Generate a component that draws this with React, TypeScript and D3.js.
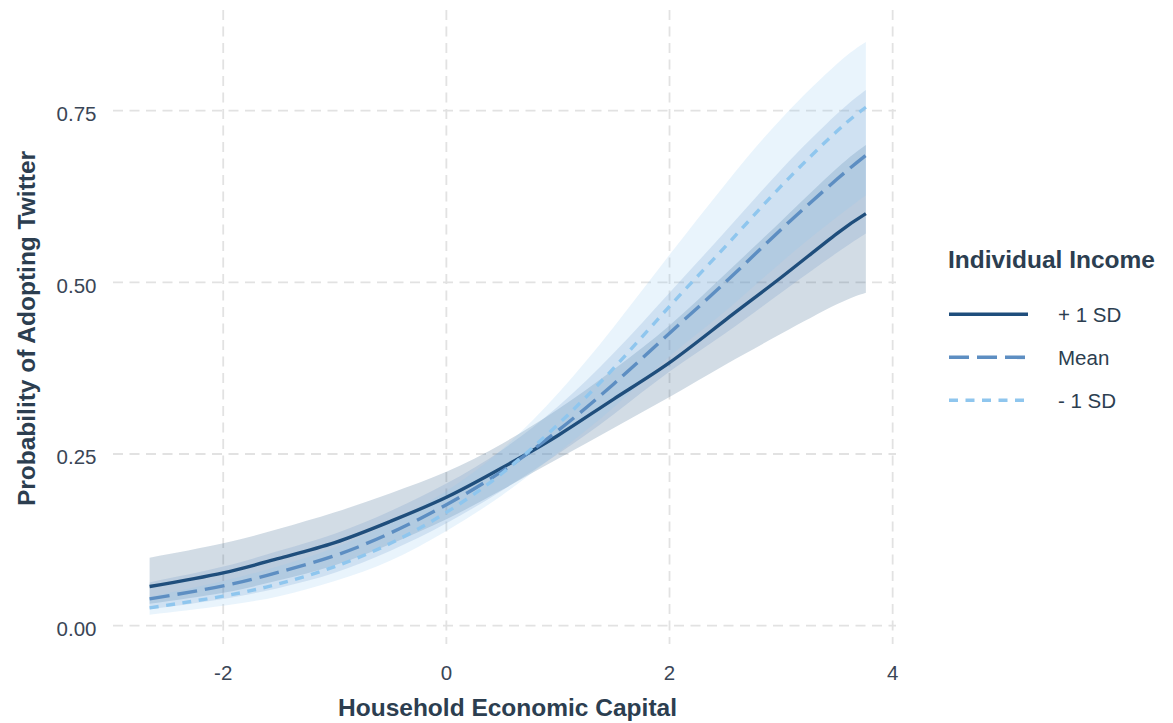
import React from "react";
import * as d3 from "d3";

// Household Economic Capital (x)
const xValues = [-2.66, -2, -1.5, -1, -0.5, 0, 0.5, 1, 1.5, 2, 2.5, 3, 3.5, 3.76];

// + 1 SD
const plusFit = [0.057, 0.077, 0.098, 0.121, 0.152, 0.187, 0.23, 0.277, 0.33, 0.383, 0.445, 0.507, 0.571, 0.6];
const plusLow = [0.032, 0.048, 0.066, 0.088, 0.119, 0.155, 0.198, 0.243, 0.288, 0.333, 0.38, 0.425, 0.468, 0.485];
const plusHigh = [0.099, 0.12, 0.141, 0.165, 0.193, 0.224, 0.265, 0.315, 0.373, 0.437, 0.512, 0.589, 0.666, 0.7];

// Mean
const meanFit = [0.039, 0.058, 0.078, 0.102, 0.135, 0.176, 0.225, 0.284, 0.352, 0.426, 0.5, 0.577, 0.65, 0.685];
const meanLow = [0.024, 0.039, 0.055, 0.077, 0.109, 0.149, 0.197, 0.25, 0.308, 0.37, 0.426, 0.485, 0.543, 0.571];
const meanHigh = [0.063, 0.086, 0.109, 0.134, 0.167, 0.207, 0.256, 0.319, 0.397, 0.485, 0.574, 0.664, 0.745, 0.78];

// - 1 SD
const minusFit = [0.026, 0.043, 0.061, 0.086, 0.12, 0.165, 0.222, 0.293, 0.375, 0.465, 0.552, 0.64, 0.72, 0.755];
const minusLow = [0.016, 0.029, 0.043, 0.065, 0.095, 0.138, 0.19, 0.252, 0.318, 0.392, 0.458, 0.529, 0.595, 0.627];
const minusHigh = [0.042, 0.065, 0.087, 0.114, 0.15, 0.196, 0.257, 0.338, 0.435, 0.54, 0.643, 0.738, 0.818, 0.85];

const xTicks = [-2, 0, 2, 4];
const yTicks = [0, 0.25, 0.5, 0.75];
const yTickLabels = ["0.00", "0.25", "0.50", "0.75"];

const seriesNames = ["+ 1 SD", "Mean", "- 1 SD"];
const seriesColors = ["#1f4e7c", "#5d8ec2", "#8fc6ee"];
const seriesDash = ["none", "20 8", "9 7.5"];

const W = 1173;
const H = 723;
const panel = { left: 113, right: 896, top: 10, bottom: 644 };
const FONT = "'Liberation Sans', Arial, sans-serif";

export default function App() {
  const x = d3.scaleLinear().domain([-2.988, 4.03]).range([panel.left, panel.right]);
  const y = d3.scaleLinear().domain([-0.0267, 0.8966]).range([panel.bottom, panel.top]);

  const series = [
    { fit: plusFit, low: plusLow, high: plusHigh },
    { fit: meanFit, low: meanLow, high: meanHigh },
    { fit: minusFit, low: minusLow, high: minusHigh },
  ];

  const area = d3
    .area<number>()
    .x((_, i) => x(xValues[i]))
    .curve(d3.curveNatural);
  const line = d3
    .line<number>()
    .x((_, i) => x(xValues[i]))
    .y((d) => y(d))
    .curve(d3.curveNatural);

  const gridColor = "#e2e2e2";
  const textColor = "#2c3e50";
  const tickColor = "#3a4656";

  return (
    <svg
      width={W}
      height={H}
      style={{ position: "absolute", left: 0, top: 0, background: "#fff" }}
      fontFamily={FONT}
    >
      {/* grid */}
      {yTicks.map((t) => (
        <line
          key={"gy" + t}
          x1={panel.left}
          x2={panel.right}
          y1={y(t)}
          y2={y(t)}
          stroke={gridColor}
          strokeWidth={1.8}
          strokeDasharray="10 6.5"
        />
      ))}
      {xTicks.map((t) => (
        <line
          key={"gx" + t}
          x1={x(t)}
          x2={x(t)}
          y1={panel.top}
          y2={panel.bottom}
          stroke={gridColor}
          strokeWidth={1.8}
          strokeDasharray="10 6.5"
        />
      ))}

      {/* ribbons */}
      {series.map((s, k) => (
        <path
          key={"r" + k}
          d={
            area
              .y0((_, i) => y(s.low[i]))
              .y1((_, i) => y(s.high[i]))(s.fit) as string
          }
          fill={seriesColors[k]}
          fillOpacity={0.2}
          stroke="none"
        />
      ))}

      {/* lines */}
      {series.map((s, k) => (
        <path
          key={"l" + k}
          d={line(s.fit) as string}
          fill="none"
          stroke={seriesColors[k]}
          strokeWidth={3.4}
          strokeDasharray={seriesDash[k]}
        />
      ))}

      {/* y tick labels */}
      {yTicks.map((t, i) => (
        <text
          key={"yl" + t}
          x={96.5}
          y={y(t) + 10.5}
          textAnchor="end"
          fontSize={20.5}
          fill={tickColor}
        >
          {yTickLabels[i]}
        </text>
      ))}
      {/* x tick labels */}
      {xTicks.map((t) => (
        <text
          key={"xl" + t}
          x={x(t)}
          y={680}
          textAnchor="middle"
          fontSize={20.5}
          fill={tickColor}
        >
          {t < 0 ? "-" + Math.abs(t) : String(t)}
        </text>
      ))}

      {/* axis titles */}
      <text
        x={507.5}
        y={716}
        textAnchor="middle"
        fontSize={24.5}
        fontWeight="bold"
        fill={textColor}
      >
        Household Economic Capital
      </text>
      <text
        transform="translate(35,328.5) rotate(-90)"
        textAnchor="middle"
        fontSize={24.5}
        fontWeight="bold"
        fill={textColor}
      >
        Probability of Adopting Twitter
      </text>

      {/* legend */}
      <text x={948} y={267.5} fontSize={24.5} fontWeight="bold" fill={textColor}>
        Individual Income
      </text>
      {seriesNames.map((name, k) => {
        const ky = 314.3 + k * 43;
        return (
          <g key={"lg" + k}>
            <line
              x1={949}
              x2={1028}
              y1={ky}
              y2={ky}
              stroke={seriesColors[k]}
              strokeWidth={3.6}
              strokeDasharray={seriesDash[k]}
            />
            <text x={1058} y={ky + 7.5} fontSize={20.5} fill={textColor}>
              {name}
            </text>
          </g>
        );
      })}
    </svg>
  );
}
